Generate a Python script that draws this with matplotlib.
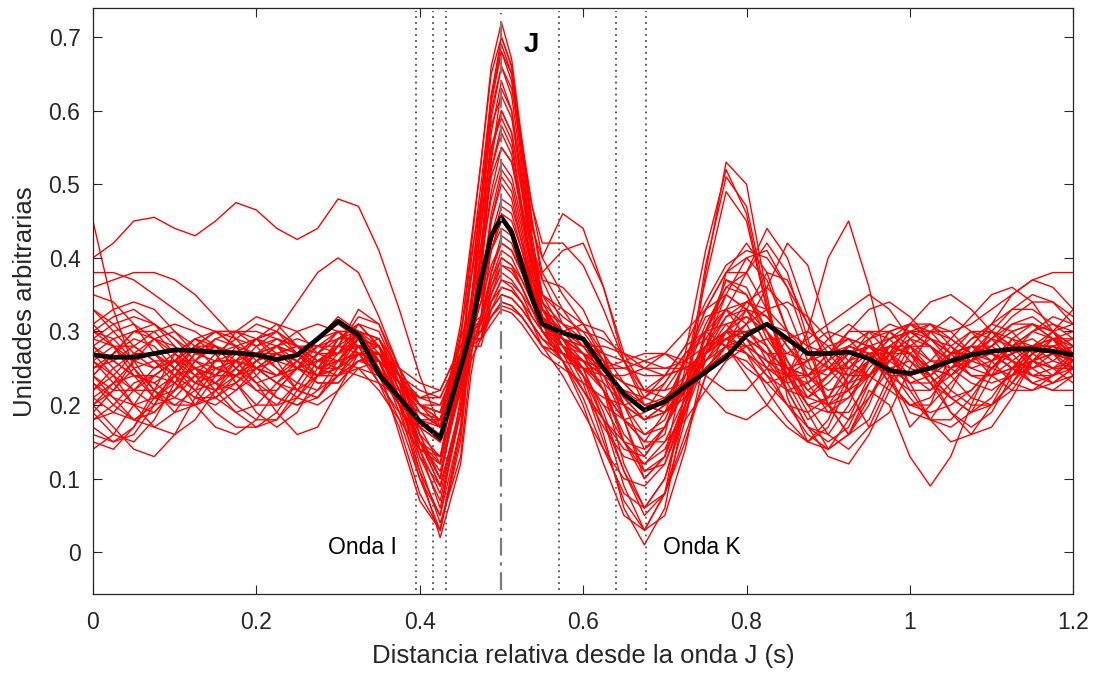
import matplotlib
matplotlib.use("Agg")
import matplotlib.pyplot as plt

# x grid (s), finer around the J peak
t = [0.0, 0.025, 0.05, 0.075, 0.1, 0.125, 0.15, 0.175, 0.2, 0.225, 0.25, 0.275,
     0.3, 0.325, 0.35, 0.375, 0.4, 0.425, 0.45,
     0.4625, 0.475, 0.4875, 0.5, 0.5125, 0.525, 0.5375,
     0.55, 0.575, 0.6, 0.625, 0.65, 0.675, 0.7, 0.725, 0.75, 0.775, 0.8, 0.825,
     0.85, 0.875, 0.9, 0.925, 0.95, 0.975, 1.0, 1.025, 1.05, 1.075, 1.1, 1.125,
     1.15, 1.175, 1.2]

# individual beats (arbitrary units)
beats = [
    [.25, .27, .29, .28, .25, .23, .24, .27, .29, .28, .25, .24, .27, .29, .26, .2, .14, .12, .29,
     .41, .53, .66, .72, .67, .56, .45,
     .37, .31, .28, .24, .18, .15, .19, .26, .32, .33, .29, .25, .23, .24, .27, .29, .28, .25, .23, .24, .27, .3, .3, .27, .24, .23, .25],
    [.40, .42, .45, .455, .44, .43, .45, .475, .465, .44, .425, .44, .48, .47, .41, .33, .24, .17, .31,
     .42, .53, .65, .70, .66, .55, .44,
     .40, .46, .44, .36, .26, .2, .19, .22, .27, .31, .32, .3, .27, .26, .27, .28, .27, .25, .24, .25, .27, .28, .27, .25, .24, .25, .27],
    [.45, .33, .25, .21, .22, .26, .29, .28, .25, .23, .25, .29, .32, .3, .25, .2, .15, .12, .25,
     .37, .48, .62, .69, .65, .54, .43,
     .35, .3, .27, .22, .12, .06, .1, .2, .3, .37, .36, .3, .24, .2, .21, .26, .3, .3, .27, .25, .26, .29, .3, .28, .25, .23, .24],
    [.3, .29, .26, .22, .19, .2, .24, .28, .29, .26, .22, .21, .25, .3, .28, .2, .1, .05, .21,
     .34, .46, .61, .68, .64, .53, .42,
     .35, .33, .31, .27, .2, .14, .16, .27, .41, .52, .46, .33, .24, .21, .24, .28, .27, .23, .2, .21, .25, .28, .28, .26, .24, .24, .26],
    [.22, .24, .27, .29, .28, .25, .23, .22, .24, .27, .28, .26, .27, .31, .3, .24, .14, .06, .19,
     .32, .44, .59, .66, .62, .52, .41,
     .34, .29, .24, .16, .06, .01, .06, .2, .38, .53, .5, .35, .21, .15, .17, .23, .27, .27, .25, .24, .26, .29, .31, .3, .27, .25, .25],
    [.19, .16, .15, .18, .23, .27, .28, .25, .22, .22, .25, .28, .3, .28, .24, .18, .1, .03, .15,
     .29, .41, .57, .64, .6, .5, .4,
     .33, .28, .23, .15, .07, .03, .08, .22, .39, .51, .47, .34, .23, .18, .2, .24, .26, .24, .22, .22, .25, .27, .27, .25, .23, .24, .27],
    [.27, .26, .24, .23, .25, .28, .3, .29, .26, .24, .25, .27, .3, .3, .26, .2, .15, .13, .27,
     .37, .47, .58, .62, .59, .5, .41,
     .35, .32, .3, .26, .18, .1, .13, .25, .37, .49, .45, .33, .25, .22, .24, .27, .28, .26, .24, .25, .28, .3, .29, .26, .23, .22, .24],
    [.33, .3, .27, .25, .26, .29, .3, .28, .25, .24, .26, .29, .31, .29, .24, .2, .18, .18, .3,
     .37, .45, .55, .6, .57, .49, .41,
     .38, .41, .42, .36, .27, .22, .21, .23, .26, .3, .33, .32, .28, .25, .24, .26, .28, .27, .24, .22, .24, .27, .29, .28, .26, .25, .26],
    [.24, .27, .3, .3, .27, .24, .23, .25, .28, .29, .27, .25, .28, .33, .31, .24, .16, .1, .24,
     .34, .44, .55, .59, .56, .47, .38,
     .32, .28, .26, .22, .16, .13, .17, .24, .28, .29, .31, .36, .42, .39, .3, .22, .17, .19, .25, .3, .32, .3, .27, .25, .26, .28, .29],
    [.2, .22, .26, .29, .3, .28, .25, .24, .26, .28, .27, .24, .24, .28, .29, .23, .13, .07, .19,
     .31, .41, .52, .57, .54, .46, .38,
     .32, .27, .22, .18, .14, .13, .17, .22, .26, .28, .27, .25, .24, .26, .29, .31, .29, .24, .19, .18, .22, .27, .3, .29, .26, .24, .25],
    [.29, .28, .26, .25, .27, .29, .28, .25, .23, .24, .27, .29, .31, .3, .26, .21, .17, .15, .27,
     .34, .42, .51, .55, .53, .46, .39,
     .34, .31, .29, .26, .21, .18, .19, .22, .25, .28, .33, .38, .37, .31, .26, .23, .24, .27, .28, .26, .25, .26, .28, .3, .31, .3, .28],
    [.15, .14, .17, .22, .27, .29, .27, .23, .2, .2, .23, .27, .3, .3, .26, .19, .11, .05, .17,
     .28, .36, .46, .52, .5, .44, .37,
     .32, .28, .25, .19, .11, .05, .08, .18, .3, .37, .35, .29, .25, .24, .26, .28, .27, .23, .2, .2, .23, .26, .27, .26, .25, .26, .28],
    [.26, .23, .2, .19, .22, .26, .28, .27, .25, .23, .22, .24, .28, .3, .27, .21, .15, .11, .22,
     .3, .36, .45, .5, .48, .42, .36,
     .31, .3, .31, .3, .26, .22, .22, .26, .3, .33, .38, .42, .38, .29, .2, .16, .2, .27, .31, .31, .28, .25, .24, .25, .27, .28, .27],
    [.31, .33, .34, .33, .3, .27, .26, .27, .29, .3, .28, .26, .27, .3, .29, .24, .18, .15, .25,
     .31, .35, .43, .48, .47, .42, .37,
     .33, .3, .29, .27, .23, .2, .21, .24, .28, .3, .29, .27, .27, .29, .31, .33, .35, .33, .29, .26, .26, .28, .31, .33, .33, .31, .29],
    [.18, .2, .23, .24, .23, .21, .2, .22, .25, .27, .26, .24, .25, .29, .28, .22, .16, .13, .23,
     .29, .34, .42, .47, .46, .41, .36,
     .32, .28, .24, .2, .18, .19, .23, .27, .29, .28, .25, .23, .24, .3, .4, .45, .36, .24, .17, .2, .27, .28, .26, .23, .22, .23, .25],
    [.38, .38, .37, .35, .33, .31, .3, .3, .3, .29, .28, .27, .26, .27, .27, .24, .2, .18, .27,
     .32, .35, .41, .45, .44, .4, .36,
     .33, .31, .3, .29, .27, .25, .24, .25, .27, .29, .3, .31, .3, .28, .27, .27, .28, .29, .3, .3, .3, .31, .33, .35, .37, .38, .38],
    [.36, .37, .38, .38, .37, .35, .32, .29, .28, .3, .34, .38, .4, .38, .32, .25, .2, .19, .29,
     .33, .36, .41, .44, .43, .4, .36,
     .32, .29, .27, .25, .23, .22, .24, .28, .34, .39, .41, .4, .36, .31, .27, .24, .24, .27, .31, .34, .35, .33, .3, .28, .28, .3, .33],
    [.21, .19, .18, .2, .24, .28, .3, .28, .24, .21, .2, .22, .26, .29, .28, .23, .18, .16, .25,
     .29, .32, .38, .42, .41, .38, .34,
     .3, .27, .26, .24, .22, .21, .23, .27, .3, .31, .28, .24, .2, .17, .15, .17, .23, .28, .3, .28, .24, .21, .2, .22, .26, .28, .27],
    [.28, .25, .22, .2, .21, .24, .27, .28, .27, .26, .27, .29, .3, .28, .23, .19, .17, .18, .26,
     .3, .31, .37, .41, .4, .37, .34,
     .31, .28, .26, .25, .25, .26, .27, .26, .24, .22, .22, .25, .29, .3, .28, .25, .24, .26, .28, .28, .26, .24, .24, .26, .28, .29, .28],
    [.24, .22, .22, .24, .26, .26, .25, .24, .25, .27, .28, .28, .29, .31, .28, .22, .15, .09, .19,
     .26, .29, .36, .4, .39, .36, .33,
     .3, .26, .2, .12, .05, .03, .08, .16, .24, .28, .29, .27, .25, .24, .25, .27, .29, .3, .28, .25, .24, .26, .29, .31, .31, .29, .26],
    [.2, .17, .14, .13, .16, .21, .25, .26, .25, .24, .25, .26, .26, .27, .26, .23, .2, .19, .27,
     .3, .31, .36, .39, .38, .36, .33,
     .31, .29, .27, .25, .23, .22, .22, .23, .25, .28, .31, .33, .34, .32, .29, .26, .24, .22, .2, .19, .2, .22, .25, .27, .28, .27, .26],
    [.27, .29, .3, .29, .27, .25, .24, .24, .26, .28, .29, .28, .27, .28, .27, .23, .19, .17, .25,
     .29, .3, .35, .38, .37, .35, .32,
     .3, .28, .27, .26, .25, .24, .24, .25, .27, .29, .3, .28, .24, .19, .14, .16, .22, .2, .13, .09, .13, .2, .26, .29, .28, .26, .25],
    [.3, .28, .25, .22, .2, .2, .22, .25, .27, .27, .25, .23, .23, .26, .27, .24, .2, .18, .25,
     .29, .29, .34, .37, .36, .34, .31,
     .29, .27, .25, .24, .24, .25, .27, .3, .33, .35, .33, .28, .22, .17, .16, .2, .26, .3, .31, .29, .27, .27, .29, .32, .34, .34, .32],
    [.25, .26, .28, .3, .31, .3, .28, .27, .27, .28, .3, .31, .3, .27, .24, .22, .21, .22, .28,
     .31, .31, .34, .36, .355, .34, .32,
     .3, .29, .28, .28, .27, .26, .25, .25, .27, .3, .32, .3, .26, .22, .2, .21, .24, .27, .27, .25, .22, .2, .2, .23, .27, .3, .31],
    [.22, .25, .27, .27, .25, .23, .22, .23, .25, .26, .25, .24, .25, .27, .26, .23, .21, .21, .27,
     .3, .3, .33, .35, .345, .33, .31,
     .29, .26, .22, .18, .15, .14, .17, .22, .27, .29, .27, .24, .22, .23, .26, .3, .33, .34, .32, .29, .26, .24, .24, .25, .26, .25, .23],
    [.33, .31, .28, .26, .26, .28, .3, .3, .28, .25, .23, .22, .24, .27, .27, .25, .23, .22, .28,
     .3, .3, .32, .34, .335, .32, .3,
     .28, .26, .25, .25, .26, .27, .27, .25, .22, .19, .18, .2, .24, .28, .3, .29, .26, .24, .24, .26, .29, .32, .35, .36, .34, .3, .26],
    [.14, .16, .2, .24, .26, .25, .22, .19, .17, .18, .22, .26, .28, .28, .26, .23, .2, .19, .26,
     .29, .29, .32, .335, .33, .32, .3,
     .28, .27, .26, .25, .23, .2, .19, .21, .25, .28, .28, .26, .24, .24, .27, .3, .3, .27, .22, .18, .17, .19, .24, .29, .31, .29, .25],
    [.26, .24, .22, .22, .24, .27, .29, .3, .29, .27, .25, .24, .25, .27, .27, .24, .21, .2, .26,
     .29, .29, .31, .33, .325, .31, .29,
     .27, .25, .23, .21, .2, .21, .24, .28, .3, .28, .24, .2, .17, .15, .18, .24, .29, .31, .3, .28, .26, .25, .26, .28, .3, .31, .3],
    [.24, .21, .18, .17, .19, .23, .26, .26, .23, .19, .16, .17, .22, .27, .28, .24, .17, .12, .22,
     .28, .31, .38, .43, .42, .38, .34,
     .3, .27, .25, .22, .18, .15, .15, .18, .22, .26, .28, .29, .29, .27, .25, .25, .27, .28, .27, .24, .21, .19, .21, .25, .28, .28, .26],
    [.29, .31, .32, .31, .29, .27, .27, .29, .31, .3, .27, .25, .26, .3, .29, .23, .15, .1, .23,
     .34, .4, .48, .53, .51, .45, .38,
     .33, .29, .26, .22, .18, .16, .18, .24, .31, .36, .38, .44, .4, .32, .25, .22, .24, .28, .3, .29, .27, .27, .28, .3, .31, .3, .28],
    [.17, .15, .16, .2, .25, .28, .27, .23, .19, .17, .19, .24, .29, .3, .25, .16, .07, .03, .17,
     .33, .47, .62, .70, .66, .55, .45,
     .38, .33, .29, .23, .15, .1, .13, .21, .3, .35, .33, .28, .24, .23, .25, .28, .3, .29, .26, .23, .21, .22, .25, .28, .3, .29, .27],
    [.3, .32, .33, .31, .28, .25, .24, .26, .29, .31, .3, .27, .27, .3, .29, .25, .2, .17, .29,
     .4, .48, .6, .66, .63, .55, .47,
     .42, .42, .39, .33, .26, .21, .2, .23, .28, .32, .34, .33, .3, .27, .25, .24, .26, .29, .31, .3, .27, .24, .23, .24, .26, .27, .26],
    [.23, .2, .18, .19, .22, .24, .25, .24, .22, .2, .21, .25, .29, .31, .28, .21, .12, .04, .13,
     .26, .37, .53, .63, .6, .51, .41,
     .34, .29, .25, .18, .09, .03, .05, .14, .27, .38, .42, .38, .3, .23, .19, .19, .23, .27, .29, .28, .26, .26, .28, .31, .32, .3, .27],
    [.26, .28, .28, .26, .23, .21, .21, .23, .26, .28, .27, .25, .26, .29, .28, .22, .14, .08, .19,
     .3, .4, .52, .58, .55, .47, .39,
     .33, .3, .27, .22, .15, .11, .13, .2, .28, .35, .4, .41, .36, .28, .2, .16, .18, .24, .29, .31, .3, .27, .24, .22, .22, .24, .26],
    [.2, .23, .26, .27, .25, .22, .19, .17, .17, .19, .23, .27, .29, .29, .26, .2, .13, .09, .19,
     .27, .32, .41, .46, .45, .41, .36,
     .31, .26, .21, .14, .08, .06, .1, .19, .28, .33, .31, .26, .22, .21, .23, .26, .27, .25, .21, .18, .18, .21, .25, .28, .29, .27, .24],
    [.16, .15, .17, .21, .24, .25, .23, .2, .18, .18, .21, .24, .26, .25, .22, .18, .14, .13, .22,
     .28, .3, .35, .39, .385, .36, .33,
     .3, .26, .22, .17, .13, .12, .15, .21, .27, .3, .29, .25, .2, .16, .14, .16, .21, .25, .26, .24, .21, .19, .2, .23, .26, .27, .26],
    [.28, .26, .24, .24, .26, .28, .28, .26, .23, .21, .2, .21, .24, .26, .25, .21, .17, .15, .23,
     .28, .29, .34, .37, .365, .35, .33,
     .31, .29, .27, .24, .2, .18, .2, .26, .33, .38, .38, .33, .26, .21, .2, .22, .26, .28, .27, .25, .24, .26, .3, .33, .35, .34, .31],
    [.24, .27, .3, .31, .29, .26, .24, .24, .26, .27, .26, .24, .24, .25, .24, .21, .18, .17, .25,
     .29, .29, .33, .35, .345, .33, .31,
     .29, .27, .25, .23, .2, .18, .19, .23, .28, .3, .27, .22, .18, .15, .14, .18, .24, .28, .28, .24, .19, .16, .17, .21, .26, .29, .3],
    [.35, .34, .31, .27, .24, .22, .23, .26, .29, .3, .28, .25, .25, .28, .28, .24, .19, .17, .26,
     .31, .34, .39, .42, .41, .38, .35,
     .32, .3, .28, .25, .21, .18, .2, .26, .33, .38, .4, .37, .3, .24, .21, .22, .26, .3, .31, .29, .27, .28, .31, .35, .37, .36, .33],
    [.27, .24, .2, .17, .16, .18, .22, .26, .27, .25, .22, .21, .24, .28, .27, .21, .11, .02, .12,
     .24, .32, .45, .51, .49, .43, .36,
     .31, .27, .24, .2, .15, .12, .14, .2, .27, .32, .33, .3, .25, .2, .16, .14, .17, .23, .28, .3, .29, .27, .25, .24, .25, .27, .28],
    [.21, .23, .24, .23, .21, .2, .21, .24, .27, .28, .26, .23, .23, .26, .27, .23, .15, .09, .2,
     .31, .39, .49, .55, .53, .47, .41,
     .37, .36, .33, .27, .18, .11, .12, .2, .3, .36, .35, .3, .24, .2, .19, .21, .25, .28, .27, .23, .19, .17, .19, .24, .28, .29, .27],
    [.19, .22, .25, .26, .24, .2, .17, .16, .18, .22, .25, .26, .25, .24, .23, .21, .19, .18, .25,
     .28, .28, .33, .36, .355, .34, .31,
     .28, .24, .19, .14, .1, .09, .12, .19, .26, .29, .28, .26, .25, .26, .28, .29, .28, .25, .23, .23, .25, .27, .27, .25, .23, .22, .22],
    [.28, .3, .31, .29, .26, .23, .22, .24, .27, .29, .28, .26, .28, .32, .31, .25, .16, .1, .25,
     .39, .5, .62, .68, .65, .56, .47,
     .4, .35, .31, .26, .2, .16, .17, .23, .29, .33, .34, .32, .28, .24, .22, .23, .26, .29, .3, .28, .25, .23, .22, .24, .27, .29, .29],
    [.31, .28, .24, .21, .2, .22, .26, .3, .32, .31, .28, .25, .24, .26, .26, .23, .2, .2, .27,
     .31, .32, .37, .4, .39, .37, .34,
     .31, .29, .28, .27, .26, .25, .25, .26, .28, .3, .3, .27, .22, .17, .13, .12, .16, .22, .27, .29, .28, .26, .25, .27, .3, .32, .31],
    [.23, .21, .2, .21, .23, .25, .26, .26, .25, .23, .21, .2, .22, .25, .26, .24, .22, .21, .27,
     .3, .3, .32, .34, .335, .32, .3,
     .28, .27, .26, .24, .22, .2, .2, .22, .25, .27, .26, .23, .2, .19, .21, .25, .28, .27, .23, .18, .15, .16, .2, .25, .28, .28, .26],
    [.18, .19, .22, .25, .26, .24, .21, .19, .2, .23, .26, .28, .28, .27, .23, .17, .08, .03, .16,
     .3, .41, .54, .6, .57, .49, .4,
     .33, .28, .24, .18, .11, .06, .08, .15, .24, .3, .34, .36, .33, .26, .2, .18, .21, .26, .3, .31, .29, .27, .26, .27, .28, .27, .25],
]

# averaged waveform
mean_wave = [0.268, 0.265, 0.265, 0.27, 0.275, 0.274, 0.272, 0.271, 0.268, 0.262,
             0.268, 0.29, 0.314, 0.295, 0.242, 0.21, 0.178, 0.155, 0.25,
             0.30, 0.37, 0.43, 0.455, 0.435, 0.39, 0.345,
             0.31, 0.298, 0.29, 0.25, 0.215, 0.193, 0.205, 0.225, 0.245, 0.265,
             0.295, 0.31, 0.29, 0.27, 0.27, 0.272, 0.263, 0.247, 0.243, 0.25,
             0.26, 0.268, 0.273, 0.276, 0.276, 0.273, 0.268]

# wave markers
dotted_x = [0.395, 0.416, 0.432, 0.571, 0.640, 0.677]
j_x = 0.5

xticks = [0, 0.2, 0.4, 0.6, 0.8, 1.0, 1.2]
xtick_labels = ["0", "0.2", "0.4", "0.6", "0.8", "1", "1.2"]
yticks = [0, 0.1, 0.2, 0.3, 0.4, 0.5, 0.6, 0.7]
ytick_labels = ["0", "0.1", "0.2", "0.3", "0.4", "0.5", "0.6", "0.7"]

plt.rcParams["font.family"] = ["Liberation Sans", "DejaVu Sans"]
AX_COLOR = "#262626"


def main():
    for b in beats:
        assert len(b) == len(t), len(b)
    assert len(mean_wave) == len(t)

    fig = plt.figure(figsize=(10.99, 6.74), dpi=100)
    ax = fig.add_axes([0.0846, 0.1183, 0.892, 0.8694])

    for b in beats:
        ax.plot(t, b, color="#ff0000", lw=1.0, zorder=1)
    ax.plot(t, mean_wave, color="black", lw=3.4, zorder=2)

    for x in dotted_x:
        ax.plot([x, x], [-0.051, 0.735], color="#505050", lw=1.3,
                linestyle=(0, (1, 2.3)), zorder=3)
    ax.plot([j_x, j_x], [-0.051, 0.733], color="#7a7a7a", lw=1.6,
            linestyle=(0, (8, 3, 1.5, 3)), zorder=3)

    ax.text(0.537, 0.689, "J", fontsize=20, fontweight="bold",
            ha="center", va="center", color="black")
    ax.text(0.372, 0.007, "Onda I", fontsize=16.5, ha="right", va="center",
            color="black")
    ax.text(0.698, 0.006, "Onda K", fontsize=16.5, ha="left", va="center",
            color="black")

    ax.set_xlim(0, 1.2)
    ax.set_ylim(-0.057, 0.739)
    ax.set_xticks(xticks)
    ax.set_xticklabels(xtick_labels)
    ax.set_yticks(yticks)
    ax.set_yticklabels(ytick_labels)
    ax.tick_params(direction="in", length=6.5, width=0.8, colors=AX_COLOR,
                   labelsize=16.5, top=True, right=True)
    ax.tick_params(axis="x", pad=12)
    ax.tick_params(axis="y", pad=9)
    for sp in ax.spines.values():
        sp.set_color(AX_COLOR)
        sp.set_linewidth(0.9)

    ax.set_xlabel("Distancia relativa desde la onda J (s)", fontsize=18.5,
                  color=AX_COLOR, labelpad=7)
    ax.set_ylabel("Unidades arbitrarias", fontsize=18.5, color=AX_COLOR,
                  labelpad=8)

    fig.savefig("out.png", dpi=100)
    plt.close(fig)


if __name__ == "__main__":
    main()
